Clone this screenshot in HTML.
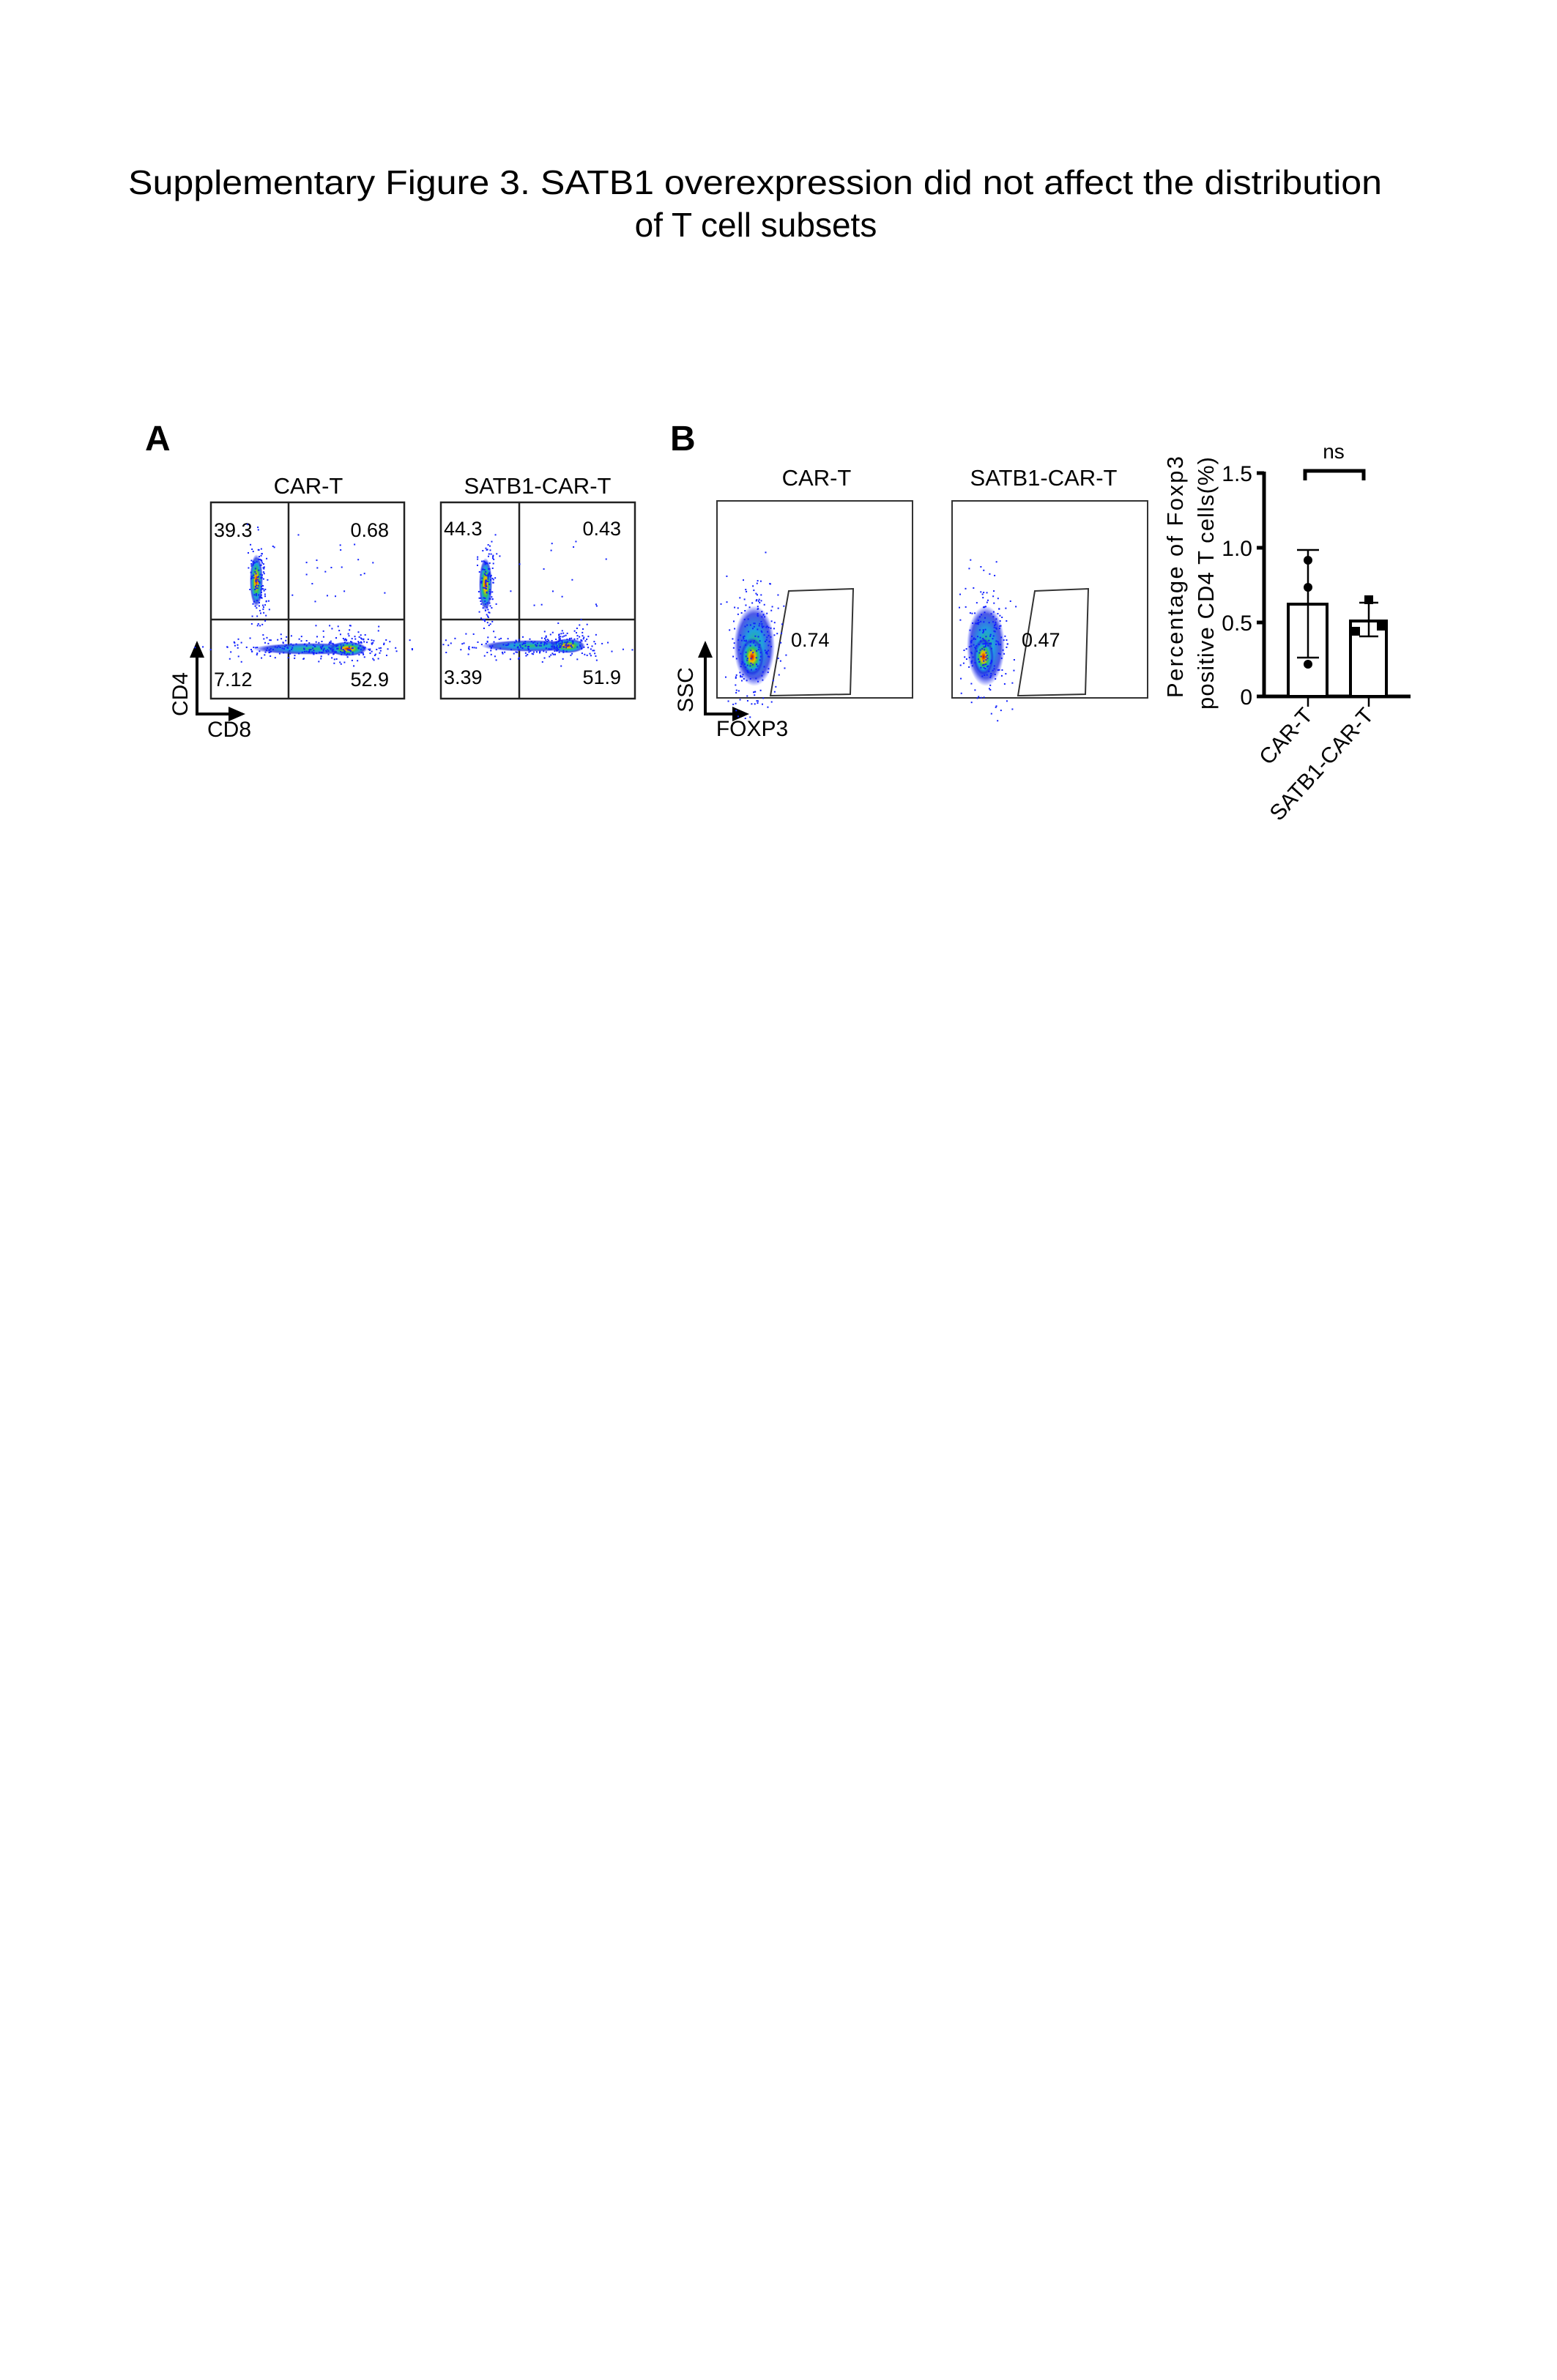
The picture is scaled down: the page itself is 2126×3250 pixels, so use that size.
<!DOCTYPE html>
<html><head><meta charset="utf-8"><style>
html,body{margin:0;padding:0;background:#fff}
svg{display:block}
text{font-family:"Liberation Sans",Arial,sans-serif;fill:#000}
</style></head><body>
<svg id="s" width="2126" height="3250" viewBox="0 0 2126 3250" xmlns="http://www.w3.org/2000/svg">
<defs>
<radialGradient id="g" cx="50%" cy="50%" r="50%">
<stop offset="0" stop-color="#d00000"/><stop offset="0.25" stop-color="#f0c000"/><stop offset="0.45" stop-color="#30c060"/><stop offset="0.65" stop-color="#20a0e0"/><stop offset="0.85" stop-color="#2030e0" stop-opacity="0.8"/><stop offset="1" stop-color="#2030ff" stop-opacity="0"/>
</radialGradient>
<radialGradient id="gb" cx="50%" cy="50%" r="50%">
<stop offset="0" stop-color="#30c070"/><stop offset="0.4" stop-color="#20a0e0"/><stop offset="0.8" stop-color="#2030e0" stop-opacity="0.8"/><stop offset="1" stop-color="#2030ff" stop-opacity="0"/>
</radialGradient>
</defs>
<text x="175" y="265" font-size="46" textLength="1712" lengthAdjust="spacingAndGlyphs">Supplementary Figure 3. SATB1 overexpression did not affect the distribution</text>
<text x="1032" y="323" font-size="46" text-anchor="middle">of T cell subsets</text>

<!-- Panel A -->
<text x="198" y="615" font-size="48" font-weight="bold">A</text>
<text x="421" y="674" font-size="31" text-anchor="middle">CAR-T</text>
<text x="734" y="674" font-size="31" text-anchor="middle">SATB1-CAR-T</text>
<g fill="none" stroke="#222" stroke-width="2.5">
<rect x="288" y="686" width="264" height="268"/>
<line x1="394" y1="686" x2="394" y2="954"/><line x1="288" y1="846" x2="552" y2="846"/>
<rect x="602" y="686" width="265" height="268"/>
<line x1="709" y1="686" x2="709" y2="954"/><line x1="602" y1="846" x2="867" y2="846"/>
</g>
<g id="blobsA">
<ellipse cx="350" cy="793" rx="9" ry="36" fill="url(#g)"/>
<ellipse cx="425" cy="886" rx="80" ry="8" fill="url(#gb)"/>
<ellipse cx="475" cy="886" rx="26" ry="10" fill="url(#g)"/>
<ellipse cx="663" cy="798" rx="9" ry="36" fill="url(#g)"/>
<ellipse cx="725" cy="882" rx="68" ry="8" fill="url(#gb)"/>
<ellipse cx="775" cy="882" rx="24" ry="10" fill="url(#g)"/>
</g>
<g font-size="27">
<text x="292" y="733">39.3</text><text x="531" y="733" text-anchor="end">0.68</text>
<text x="292" y="937">7.12</text><text x="531" y="937" text-anchor="end">52.9</text>
<text x="606" y="731">44.3</text><text x="848" y="731" text-anchor="end">0.43</text>
<text x="606" y="934">3.39</text><text x="848" y="934" text-anchor="end">51.9</text>
</g>
<g stroke="#000" stroke-width="4"><line x1="269" y1="977" x2="269" y2="895"/><line x1="267" y1="975" x2="315" y2="975"/></g>
<polygon points="269,875 259,898 279,898" fill="#000"/>
<polygon points="335,975 312,965 312,985" fill="#000"/>
<text transform="translate(256,948) rotate(-90)" font-size="30" text-anchor="middle">CD4</text>
<text x="313" y="1006" font-size="30" text-anchor="middle">CD8</text>

<!-- Panel B -->
<text x="915" y="615" font-size="48" font-weight="bold">B</text>
<text x="1115" y="663" font-size="31" text-anchor="middle">CAR-T</text>
<text x="1425" y="663" font-size="31" text-anchor="middle">SATB1-CAR-T</text>
<g fill="none" stroke="#333" stroke-width="2">
<rect x="979" y="684" width="267" height="269"/>
<rect x="1300" y="684" width="267" height="269"/>
<polygon points="1077,807 1165,804 1161,948 1052,950"/>
<polygon points="1413,807 1486,804 1482,948 1390,950"/>
</g>
<ellipse cx="1030" cy="882" rx="28" ry="55" fill="url(#gb)"/>
<ellipse cx="1027" cy="897" rx="16" ry="26" fill="url(#g)"/>
<ellipse cx="1346" cy="882" rx="26" ry="55" fill="url(#gb)"/>
<ellipse cx="1343" cy="897" rx="14" ry="26" fill="url(#g)"/>
<text x="1080" y="883" font-size="27">0.74</text>
<text x="1395" y="883" font-size="27">0.47</text>
<g stroke="#000" stroke-width="4"><line x1="963" y1="977" x2="963" y2="895"/><line x1="961" y1="975" x2="1003" y2="975"/></g>
<polygon points="963,875 953,898 973,898" fill="#000"/>
<polygon points="1023,975 1000,965 1000,985" fill="#000"/>
<text transform="translate(946,942) rotate(-90)" font-size="30" text-anchor="middle">SSC</text>
<text x="1027" y="1005" font-size="30" text-anchor="middle">FOXP3</text>

<!-- Bar chart -->
<g transform="translate(-8,0)">
<g stroke="#000" stroke-width="5" fill="none">
<line x1="1734" y1="644" x2="1734" y2="953"/>
<line x1="1732" y1="951" x2="1934" y2="951"/>
<line x1="1724" y1="646" x2="1734" y2="646"/><line x1="1724" y1="748" x2="1734" y2="748"/>
<line x1="1724" y1="850" x2="1734" y2="850"/><line x1="1724" y1="951" x2="1734" y2="951"/>
<polyline points="1790,656 1790,643 1870,643 1870,656"/>
</g>
<g stroke="#000" stroke-width="4" fill="#fff">
<rect x="1767" y="825" width="53" height="126"/>
<rect x="1852" y="848" width="49" height="103"/>
</g>
<g stroke="#000" stroke-width="2.5">
<line x1="1794" y1="751" x2="1794" y2="898"/><line x1="1779" y1="751" x2="1809" y2="751"/><line x1="1779" y1="898" x2="1809" y2="898"/>
<line x1="1877" y1="823" x2="1877" y2="869"/><line x1="1864" y1="823" x2="1890" y2="823"/><line x1="1864" y1="869" x2="1890" y2="869"/>
<line x1="1794" y1="953" x2="1794" y2="965"/><line x1="1877" y1="953" x2="1877" y2="965"/>
</g>
<g fill="#000">
<circle cx="1794" cy="765" r="6"/><circle cx="1794" cy="802" r="6"/><circle cx="1794" cy="907" r="6"/>
<rect x="1871" y="813" width="12" height="12"/><rect x="1853" y="856" width="12" height="12"/><rect x="1888" y="849" width="12" height="12"/>
</g>
<g font-size="30" text-anchor="end">
<text x="1718" y="657">1.5</text><text x="1718" y="759">1.0</text><text x="1718" y="861">0.5</text><text x="1718" y="962">0</text>
</g>
<text x="1829" y="626" font-size="28" text-anchor="middle">ns</text>
<text transform="translate(1623,953) rotate(-90)" font-size="31" textLength="330" lengthAdjust="spacing">Percentage of  Foxp3</text>
<text transform="translate(1665,969) rotate(-90)" font-size="31" textLength="345" lengthAdjust="spacing">positive CD4 T cells(%)</text>
<text transform="translate(1802,978) rotate(-48)" font-size="30" text-anchor="end">CAR-T</text>
<text transform="translate(1885,978) rotate(-48)" font-size="30" text-anchor="end">SATB1-CAR-T</text>
</g>
<g id="dots"></g>
</svg>
<script>
(function(){
var g=document.getElementById('dots'),ns='http://www.w3.org/2000/svg',s=7;
function r(){s=(s*16807)%2147483647;return s/2147483647;}
function n(){return (r()+r()+r()-1.5)/0.5;}
function d(x,y){if(x<0)return;var e=document.createElementNS(ns,'rect');e.setAttribute('x',x);e.setAttribute('y',y);e.setAttribute('width',2);e.setAttribute('height',2);e.setAttribute('fill','#1020ff');g.appendChild(e);}
function cl(cx,cy,sx,sy,k){for(var i=0;i<k;i++)d(cx+n()*sx,cy+n()*sy);}
cl(352,793,6,30,120);cl(420,884,60,8,200);cl(480,878,20,12,80);cl(460,780,40,40,25);
cl(665,798,6,30,120);cl(720,882,55,8,180);cl(775,876,20,12,80);cl(760,790,30,40,15);
cl(1030,877,18,45,220);cl(1346,877,17,45,220);
})();
</script>
</body></html>
